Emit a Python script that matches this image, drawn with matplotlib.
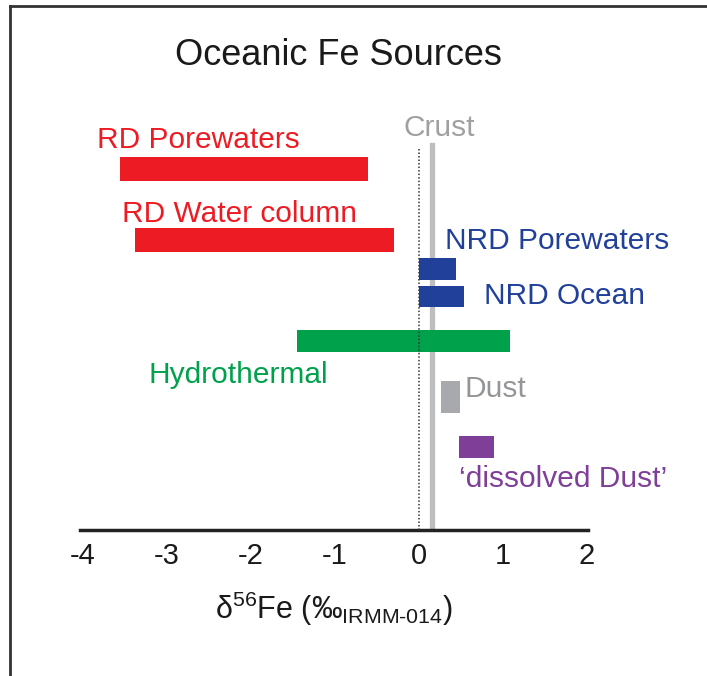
import numpy as np
import matplotlib.pyplot as plt
from matplotlib.lines import Line2D

plt.rcParams['font.family'] = ['Liberation Sans', 'DejaVu Sans']
plt.rcParams['mathtext.fontset'] = 'custom'
plt.rcParams['mathtext.rm'] = 'Liberation Sans'
plt.rcParams['mathtext.it'] = 'Liberation Sans:italic'

# delta56Fe ranges (permil) for each source
sources = ['RD Porewaters', 'RD Water column', 'NRD Porewaters', 'NRD Ocean',
           'Hydrothermal', 'Dust', "\u2018dissolved Dust\u2019"]
lows = [-3.56, -3.38, 0.0, 0.0, -1.45, 0.26, 0.48]
highs = [-0.61, -0.30, 0.44, 0.54, 1.08, 0.49, 0.89]
crust = 0.16

colors = ['#ED1C24', '#ED1C24', '#21409A', '#21409A', '#00A14B', '#A7A9AC', '#7F3F98']
label_colors = ['#ED1C24', '#ED1C24', '#21409A', '#21409A', '#00A14B', '#939598', '#7F3F98']

# layout (vertical units = pixels from top)
bar_y = [169, 240, 269, 296.5, 341, 397, 447]
bar_h = [24, 24, 22, 21, 22, 32, 22]
label_x = [97, 122, 445, 484, 148, 465, 459]
label_base = [148, 222, 249, 304, 383, 397, 487]

W, H = 707, 676
fig = plt.figure(figsize=(W / 100, H / 100), dpi=100)
ax = fig.add_axes([80 / W, (H - 530) / H, 508 / W, 530 / H])
ax.set_xlim(-4.036, 2.012)
ax.set_ylim(530, 0)

# labels are placed in pixel x, converted to data x
def xdata(xpix):
    return (xpix - 419) / 84.0

for lo, hi, y, h, c in zip(lows, highs, bar_y, bar_h, colors):
    ax.barh(y, hi - lo, left=lo, height=h, color=c, zorder=3)

for name, x, yb, c in zip(sources, label_x, label_base, label_colors):
    ax.text(xdata(x), yb, name, color=c, fontsize=21.5, va='baseline', ha='left')

# crust reference and zero line
ax.axvline(crust, ymin=0, ymax=(530 - 145) / 530, color='#BCBEC0', lw=3.8, zorder=2)
ax.axvline(0, ymin=0, ymax=(530 - 149) / 530, color='#333333', lw=1.1,
           linestyle=(0, (1, 1.3)), zorder=4)
ax.text(xdata(403), 136, 'Crust', color='#A0A0A0', fontsize=21.5, va='baseline', ha='left')

ax.text(xdata(175), 65, 'Oceanic Fe Sources', color='#1A1A1A', fontsize=26,
        va='baseline', ha='left')

for s in ['top', 'right', 'left']:
    ax.spines[s].set_visible(False)
ax.spines['bottom'].set_linewidth(2.5)
ax.spines['bottom'].set_color('#222222')
ax.set_yticks([])
ax.set_xticks([-4, -3, -2, -1, 0, 1, 2])
ax.set_xticklabels(['-4', '-3', '-2', '-1', '0', '1', '2'])
ax.tick_params(axis='x', length=0, pad=9, labelsize=21, colors='#1A1A1A')
ax.set_xlabel(r'$\mathregular{\delta^{56}}$Fe (‰$\mathregular{_{IRMM\text{-}014}}$)',
              fontsize=22, labelpad=14, color='#1A1A1A')

# outer frame (top and left edges)
fig.add_artist(Line2D([10 / W, 10 / W], [0, 1 - 6 / H], color='#333333', lw=2))
fig.add_artist(Line2D([10 / W, 1], [1 - 6 / H, 1 - 6 / H], color='#333333', lw=2))

fig.savefig('out.png', dpi=100)
